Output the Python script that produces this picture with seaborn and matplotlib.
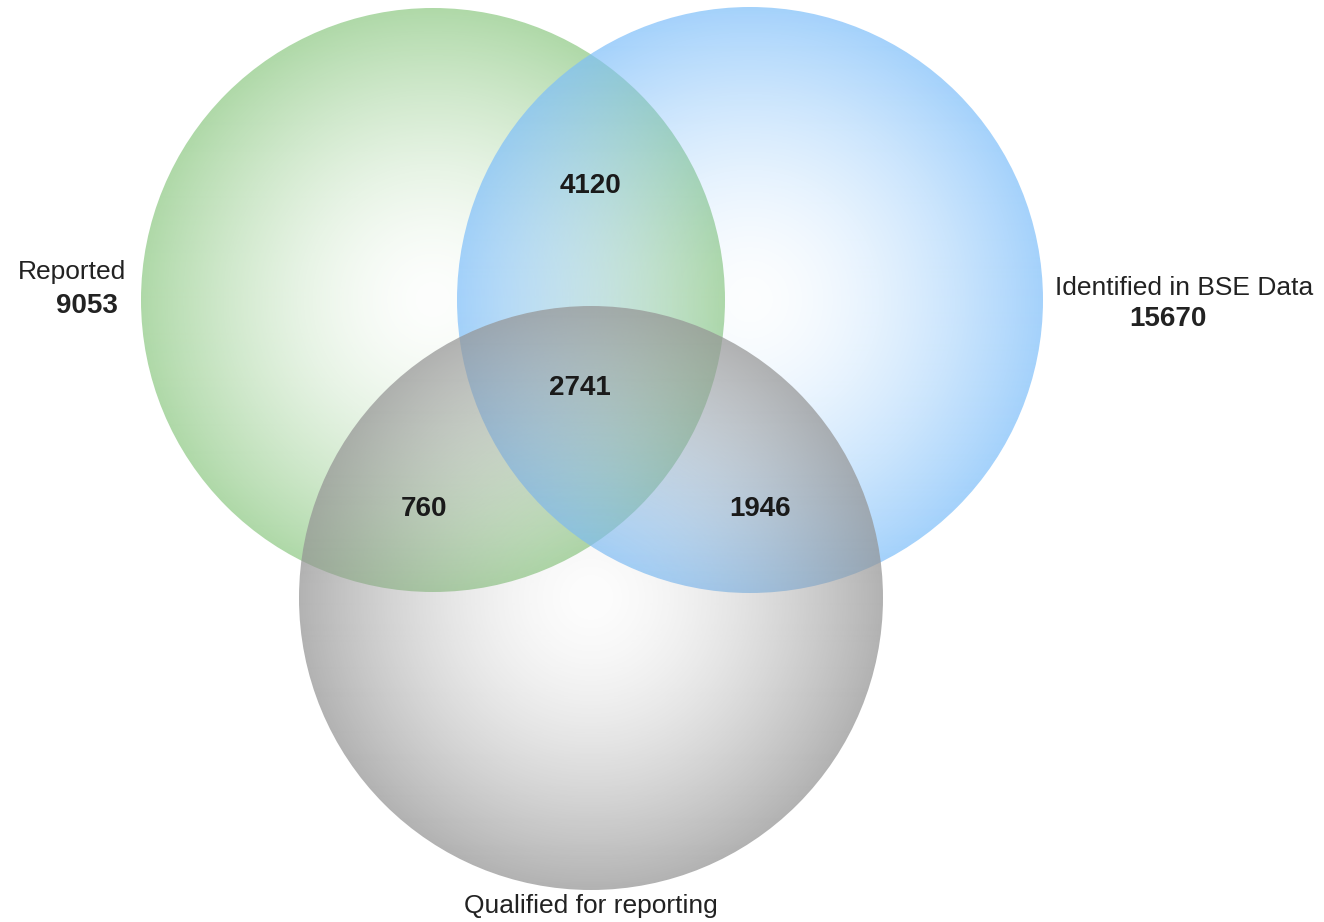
import numpy as np
import matplotlib
matplotlib.use("Agg")
import matplotlib.pyplot as plt
from matplotlib.patches import Circle
import seaborn as sns

# Venn data
set_names = ["Reported", "Identified in BSE Data", "Qualified for reporting"]
set_totals = [9053, 15670, None]
region_names = ["Reported & BSE", "All three", "Reported & Qualified", "BSE & Qualified"]
region_counts = [4120, 2741, 760, 1946]

# circle layout in pixel coords (x, y, radius)
circles = [(433, 300, 292), (750, 300, 293), (591, 598, 292)]
base_colors = [(140, 200, 130), (125, 190, 250), (148, 148, 148)]
edge_alpha = [0.7, 0.7, 0.72]

sns.set_theme(style="white")
plt.rcParams['font.family'] = ['Liberation Sans', 'DejaVu Sans']

fig = plt.figure(figsize=(13.24, 9.22), dpi=100)
ax = fig.add_axes([0, 0, 1, 1])
ax.set_xlim(0, 1324)
ax.set_ylim(922, 0)
ax.set_aspect('equal')
ax.axis('off')


def shaded_disc(ax, cx, cy, r, rgb, a1, a0=0.02, p=1.6):
    # flat colour with an alpha that grows toward the rim -> "lit sphere" look
    n = int(2 * r)
    yy, xx = np.mgrid[0:n, 0:n]
    d = np.sqrt((xx - n / 2 + 0.5) ** 2 + (yy - n / 2 + 0.5) ** 2) / r
    d = np.clip(d, 0, 1)
    img = np.zeros((n, n, 4))
    img[..., 0] = rgb[0] / 255
    img[..., 1] = rgb[1] / 255
    img[..., 2] = rgb[2] / 255
    img[..., 3] = a0 + (a1 - a0) * d ** p
    im = ax.imshow(img, extent=(cx - r, cx + r, cy + r, cy - r),
                   origin='upper', interpolation='bilinear')
    clip = Circle((cx, cy), r, transform=ax.transData)
    im.set_clip_path(clip)


for (cx, cy, r), col, a in zip(circles, base_colors, edge_alpha):
    shaded_disc(ax, cx, cy, r, col, a)

# set labels
ax.text(72, 279, set_names[0], fontsize=19, ha='center', va='baseline', color='#222222')
ax.text(87, 313, str(set_totals[0]), fontsize=20, fontweight='bold', ha='center',
        va='baseline', color='#222222')
ax.text(1184, 295, set_names[1], fontsize=19, ha='center', va='baseline', color='#222222')
ax.text(1168, 326, str(set_totals[1]), fontsize=20, fontweight='bold', ha='center',
        va='baseline', color='#222222')
ax.text(591, 913, set_names[2], fontsize=19, ha='center', va='baseline', color='#222222')

# region counts
region_pos = [(590, 193), (580, 395), (424, 516), (760, 516)]
for (x, y), n in zip(region_pos, region_counts):
    ax.text(x, y, str(n), fontsize=20, fontweight='bold', ha='center',
            va='baseline', color='#1a1a1a')

fig.savefig("out.png", dpi=100)
